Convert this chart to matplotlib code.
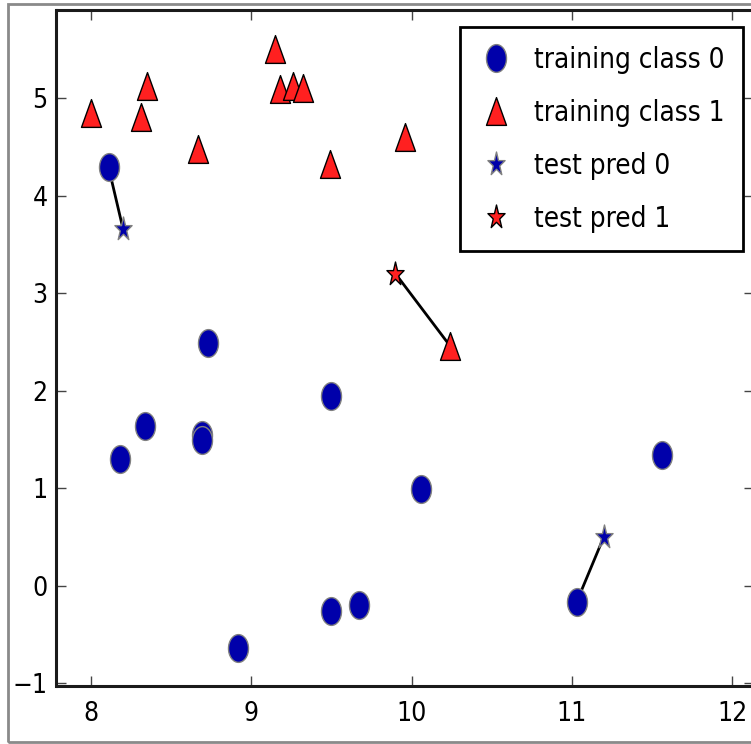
import numpy as np
import matplotlib
matplotlib.use("Agg")
import matplotlib.pyplot as plt
from matplotlib.path import Path
from matplotlib.transforms import Affine2D
from matplotlib.patches import Rectangle

#### forge data: training points and their classes ####
train_x = [9.96, 11.03, 8.69, 8.11, 8.31, 9.67, 8.35, 8.67, 9.18, 10.24,
           8.69, 8.92, 9.49, 9.26, 8.00, 8.18, 8.73, 9.32, 10.06, 9.50,
           8.34, 9.50, 9.15, 11.56]
train_y = [4.60, -0.17, 1.54, 4.29, 4.81, -0.20, 5.13, 4.48, 5.09, 2.46,
           1.49, -0.64, 4.33, 5.13, 4.85, 1.30, 2.49, 5.10, 0.99, -0.26,
           1.64, 1.94, 5.50, 1.34]
train_cls = [1, 0, 0, 0, 1, 0, 1, 1, 1, 1,
             0, 0, 1, 1, 1, 0, 0, 1, 0, 0,
             0, 0, 1, 0]

#### test points, predictions and nearest neighbours ####
test_x = [8.2, 9.9, 11.2]
test_y = [3.66, 3.2, 0.5]
test_pred = [0, 1, 0]
nn_x = [8.11, 10.24, 11.03]
nn_y = [4.29, 2.46, -0.17]

labels = ["training class 0", "training class 1", "test pred 0", "test pred 1"]
colors = ["#0000aa", "#ff2020"]
edges = ["grey", "black"]

xticks = [8, 9, 10, 11, 12]
yticks = [-1, 0, 1, 2, 3, 4, 5]

# narrow markers (the plot is squeezed horizontally)
sq = Affine2D().scale(0.72, 1.0)
circ = sq.transform_path(Path.unit_circle())
tri = Path([[0, 1], [-0.72, -1], [0.72, -1], [0, 1]], closed=True)
star = sq.transform_path(Path.unit_regular_star(5, 0.381966))
train_mk = [circ, tri]

plt.rcParams['font.family'] = ['DejaVu Sans']
plt.rcParams['font.stretch'] = 'condensed'

fig = plt.figure(figsize=(7.51, 7.44), dpi=100)
fig.patches.append(Rectangle((8/751, 2/744), 760/751, 738/744,
                             transform=fig.transFigure, fill=False,
                             edgecolor="#8a8a8a", lw=2, zorder=0))
ax = fig.add_axes([56.5/751, 58/744, 697.5/751, 676/744])

cls = np.array(train_cls)
tx = np.array(train_x)
ty = np.array(train_y)
handles = []
for c in [0, 1]:
    m = cls == c
    h, = ax.plot(tx[m], ty[m], ls='none', marker=train_mk[c], ms=20,
                 mfc=colors[c], mec=edges[c], mew=1)
    handles.append(h)

for i in range(len(test_x)):
    ax.plot([test_x[i], nn_x[i]], [test_y[i], nn_y[i]], color='k', lw=2, zorder=1)

px = np.array(test_x)
py = np.array(test_y)
pp = np.array(test_pred)
for c in [0, 1]:
    m = pp == c
    h, = ax.plot(px[m], py[m], ls='none', marker=star, ms=18,
                 mfc=colors[c], mec=edges[c], mew=1, zorder=3)
    handles.append(h)

ax.set_xlim(7.785, 12.137)
ax.set_ylim(-1.03, 5.905)
ax.set_xticks(xticks)
ax.set_yticks(yticks)
ax.tick_params(direction='in', length=7, width=1, color='#444444',
               top=True, right=True, labelsize=19)
ax.tick_params(axis='x', pad=10.5)
ax.tick_params(axis='y', pad=6.5)
for s in ax.spines.values():
    s.set_linewidth(2.2)
    s.set_color('#1a1a1a')

leg = ax.legend(handles, labels, loc='upper right', numpoints=1,
                bbox_to_anchor=(743/751, 1 - 27/744), bbox_transform=fig.transFigure,
                borderaxespad=0, fontsize=20, fancybox=False, framealpha=1,
                borderpad=0.67, labelspacing=0.9, handlelength=1.27,
                handletextpad=0.72)
leg.get_frame().set_edgecolor('black')
leg.get_frame().set_linewidth(2)

fig.savefig("out.png", dpi=100)
